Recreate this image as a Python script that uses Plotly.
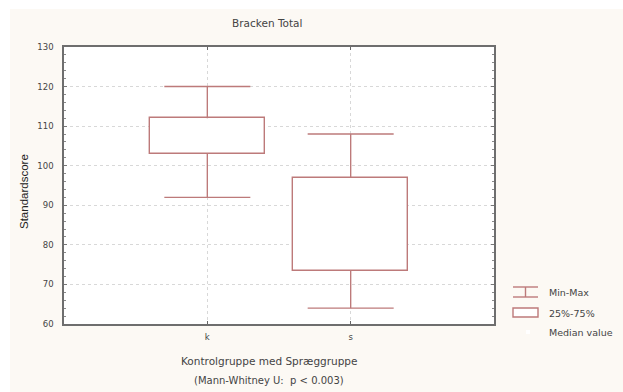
import plotly.graph_objects as go

# ---- data ----
categories = ["k", "s"]
positions = [1, 2]
mins = [92, 64]
q1 = [103, 73.4]
q3 = [112, 97]
maxs = [120, 108]
y_ticks = [60, 70, 80, 90, 100, 110, 120, 130]

COL = "#bd7a7a"
W, H = 623, 392
L, R, T, B = 64, 129, 47, 68
PW, PH = W - L - R, H - T - B

def px(x):
    return (x - L) / PW

def py(y):
    return (H - B - y) / PH

BOXW = 0.8
CAP = 0.3

fig = go.Figure()

# boxes (25%-75%)
fig.add_trace(go.Bar(
    x=positions, base=q1, y=[b - a for a, b in zip(q1, q3)], width=BOXW,
    marker=dict(color="white", line=dict(color=COL, width=1.4)),
    showlegend=False, hoverinfo="skip"))

# whiskers (min-max)
wx, wy = [], []
for p, lo, a, b, hi in zip(positions, mins, q1, q3, maxs):
    wx += [p, p, None, p, p, None, p - CAP, p + CAP, None, p - CAP, p + CAP, None]
    wy += [lo, a, None, b, hi, None, lo, lo, None, hi, hi, None]
fig.add_trace(go.Scatter(x=wx, y=wy, mode="lines",
                         line=dict(color=COL, width=1.4),
                         showlegend=False, hoverinfo="skip"))

font_d = "DejaVu Sans"
TXT = "#444444"

fig.update_layout(
    width=W, height=H,
    margin=dict(l=L, r=R, t=T, b=B, pad=0),
    paper_bgcolor="#fcf9f4", plot_bgcolor="white",
    bargap=0,
    xaxis=dict(range=[0, 3], tickvals=positions, ticktext=categories,
               showgrid=True, gridcolor="#d8d8d8", griddash="dot", gridwidth=1,
               zeroline=False, showline=True, linecolor="#6e6e6e", linewidth=1.5,
               mirror="allticks", ticks="inside", ticklen=3, tickcolor="#666666",
               ticklabelstandoff=4,
               tickfont=dict(family=font_d, size=8.5, color=TXT)),
    yaxis=dict(range=[60, 130], tickvals=y_ticks,
               showgrid=True, gridcolor="#d8d8d8", griddash="dot", gridwidth=1,
               zeroline=False, showline=True, linecolor="#6e6e6e", linewidth=1.5,
               mirror="allticks", ticks="inside", ticklen=3, tickcolor="#777777",
               ticklabelstandoff=7,
               minor=dict(dtick=2, ticks="inside", ticklen=2, tickcolor="#8a8a8a", showgrid=False),
               tickfont=dict(family=font_d, size=8.5, color=TXT)),
    showlegend=False,
)

shapes = [
    dict(type="rect", xref="paper", yref="paper", x0=px(0), x1=px(W), y0=py(0), y1=py(9),
         fillcolor="white", line=dict(width=0), layer="below"),
    dict(type="rect", xref="paper", yref="paper", x0=px(0), x1=px(10), y0=py(H), y1=py(0),
         fillcolor="white", line=dict(width=0), layer="below"),
    # legend icons
    dict(type="line", xref="paper", yref="paper", x0=px(513), x1=px(538), y0=py(287), y1=py(287),
         line=dict(color=COL, width=1.4)),
    dict(type="line", xref="paper", yref="paper", x0=px(513), x1=px(538), y0=py(297), y1=py(297),
         line=dict(color=COL, width=1.4)),
    dict(type="line", xref="paper", yref="paper", x0=px(525.5), x1=px(525.5), y0=py(287), y1=py(297),
         line=dict(color=COL, width=1.4)),
    dict(type="rect", xref="paper", yref="paper", x0=px(513), x1=px(538), y0=py(317), y1=py(308),
         fillcolor="white", line=dict(color=COL, width=1.4)),
    dict(type="rect", xref="paper", yref="paper", x0=px(526), x1=px(530), y0=py(334), y1=py(330),
         fillcolor="white", line=dict(color="white", width=0)),
]
fig.update_layout(shapes=shapes)

def ann(text, x, y, size, family=font_d, angle=0, xanchor="center", color=TXT):
    fig.add_annotation(text=text, xref="paper", yref="paper", x=px(x), y=py(y),
                       xanchor=xanchor, yanchor="middle", showarrow=False, textangle=angle,
                       font=dict(family=family, size=size, color=color))

ann("Bracken Total", 267, 23, 10.5)
ann("Kontrolgruppe med Spræggruppe", 269, 361, 10.5)
ann("(Mann-Whitney U:  p < 0.003)", 269, 380, 10)
ann("Standardscore", 24, 192, 11.5, family="Liberation Sans", angle=-90, color="#222222")
ann("Min-Max", 547, 292, 9.5, xanchor="left")
ann("25%-75%", 547, 313, 9.5, xanchor="left")
ann("Median value", 547, 332, 9.5, xanchor="left")

fig.write_html("out.html")
